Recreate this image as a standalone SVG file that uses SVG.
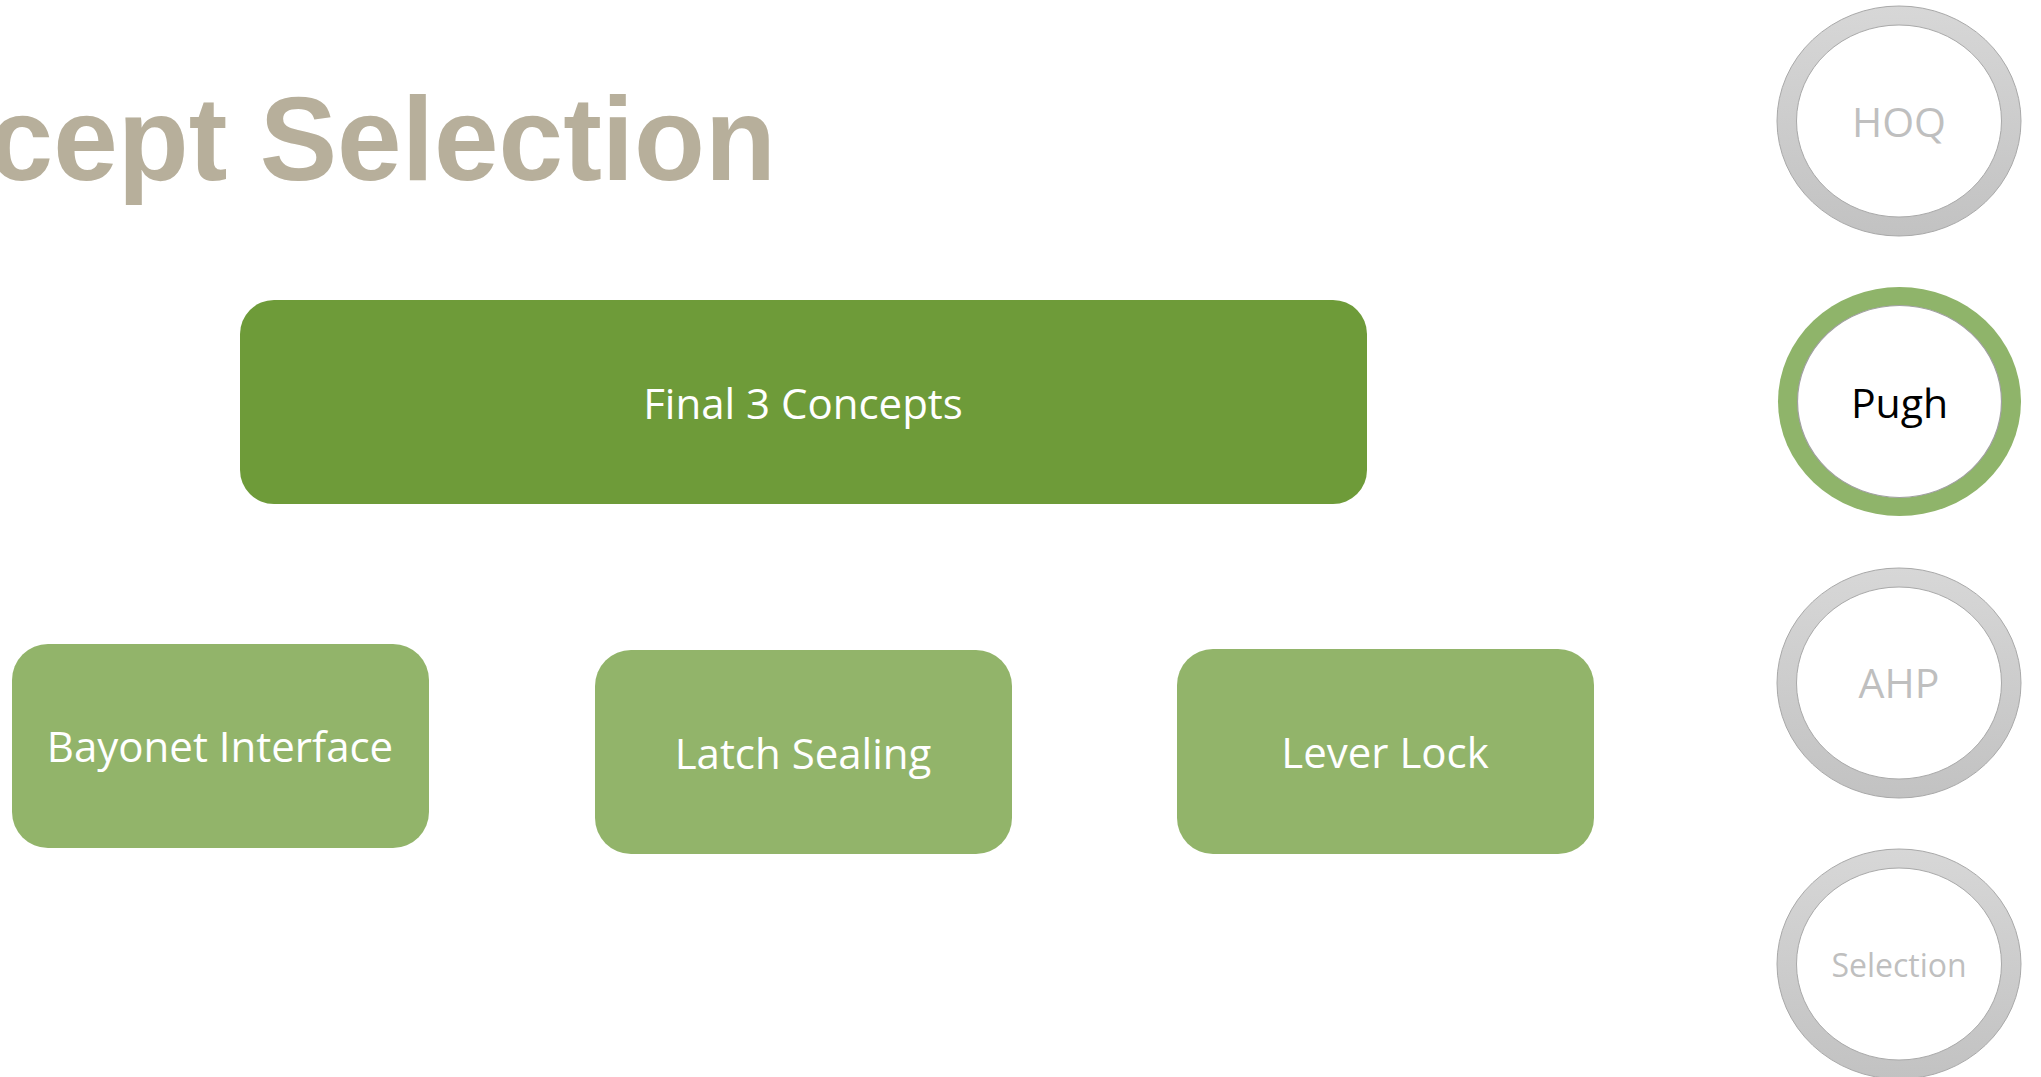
<svg xmlns="http://www.w3.org/2000/svg" width="2041" height="1077" viewBox="0 0 2041 1077">
<defs>
<linearGradient id="greyRing" x1="0" y1="0" x2="0" y2="1">
<stop offset="0" stop-color="#D7D7D7"/>
<stop offset="1" stop-color="#C2C2C2"/>
</linearGradient>
<style>
.title{font-family:"Liberation Sans",Arial,sans-serif;font-weight:bold;font-size:119px;fill:#B7AF9B}
.box-dark{fill:#6E9B39}
.box-light{fill:#92B46A}
.box-text{font-family:"Open Sans","Noto Sans",sans-serif;font-size:42px;fill:#FFFFFF;text-anchor:middle}
.ring-grey{fill:url(#greyRing);stroke:#A9A9A9;stroke-width:1}
.ring-green{fill:#8FB46A}
.ring-inner{fill:#FFFFFF;stroke:#A9A9A9;stroke-width:1}
.ring-inner-g{fill:#FFFFFF;stroke:#A0A0A0;stroke-width:1.2}
.ring-text{font-family:"Open Sans","Noto Sans",sans-serif;font-size:41px;text-anchor:middle;fill:#BFBFBF}
</style>
</defs>
<rect width="2041" height="1077" fill="#FFFFFF"/>
<text class="title" transform="translate(776,180) scale(0.976,1)" x="0" y="0" text-anchor="end">Concept Selection</text>
<g id="connectors"/>
<g id="final">
<rect class="box-dark" x="240" y="300" width="1127" height="204" rx="34" ry="34"/>
<text class="box-text" x="803" y="419">Final 3 Concepts</text>
</g>
<g id="bayonet">
<rect class="box-light" x="12" y="644" width="417" height="204" rx="36" ry="36"/>
<text class="box-text" x="220" y="762">Bayonet Interface</text>
</g>
<g id="latch">
<rect class="box-light" x="595" y="650" width="417" height="204" rx="36" ry="36"/>
<text class="box-text" x="803" y="769">Latch Sealing</text>
</g>
<g id="lever">
<rect class="box-light" x="1177" y="649" width="417" height="205" rx="36" ry="36"/>
<text class="box-text" x="1385" y="768">Lever Lock</text>
</g>
<g id="hoq">
<ellipse class="ring-grey" cx="1899" cy="121" rx="122" ry="115"/>
<ellipse class="ring-inner" cx="1899" cy="121" rx="102.5" ry="96"/>
<text class="ring-text" x="1899" y="137">HOQ</text>
</g>
<g id="pugh">
<ellipse class="ring-green" cx="1899.5" cy="401.5" rx="121.5" ry="114.5"/>
<ellipse class="ring-inner-g" cx="1899.5" cy="401.5" rx="102" ry="96"/>
<text class="ring-text" x="1899.5" y="418" style="fill:#000000">Pugh</text>
</g>
<g id="ahp">
<ellipse class="ring-grey" cx="1899" cy="683" rx="122" ry="115"/>
<ellipse class="ring-inner" cx="1899" cy="683" rx="102.5" ry="96"/>
<text class="ring-text" x="1899" y="698">AHP</text>
</g>
<g id="selection">
<ellipse class="ring-grey" cx="1899" cy="964" rx="122" ry="115"/>
<ellipse class="ring-inner" cx="1899" cy="964" rx="102.5" ry="96"/>
<text class="ring-text" x="1899" y="977" style="font-size:32px">Selection</text>
</g>
</svg>
